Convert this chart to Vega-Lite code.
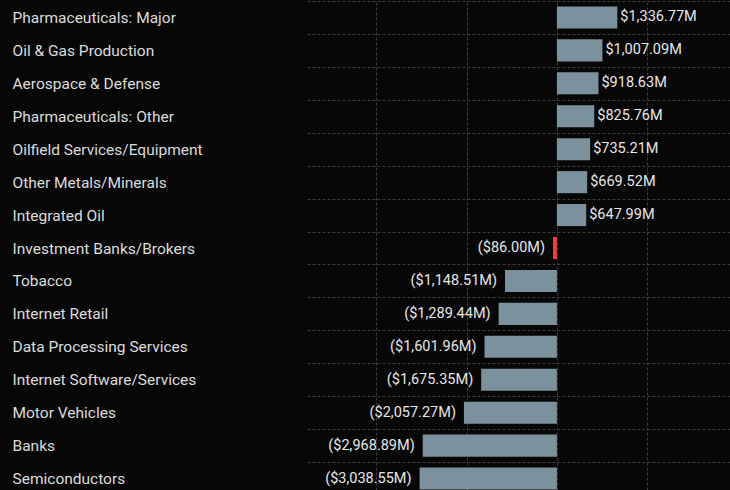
{
  "$schema": "https://vega.github.io/schema/vega-lite/v6.json",
  "autosize": "none",
  "padding": {"left": 307, "top": 1, "right": 0, "bottom": 0},
  "width": 423,
  "height": 494,
  "background": "#070707",
  "config": {
    "view": {"stroke": null},
    "font": "Roboto"
  },
  "data": {
    "values": [
      {"sector": "Pharmaceuticals: Major", "value": 1336.77},
      {"sector": "Oil & Gas Production", "value": 1007.09},
      {"sector": "Aerospace & Defense", "value": 918.63},
      {"sector": "Pharmaceuticals: Other", "value": 825.76},
      {"sector": "Oilfield Services/Equipment", "value": 735.21},
      {"sector": "Other Metals/Minerals", "value": 669.52},
      {"sector": "Integrated Oil", "value": 647.99},
      {"sector": "Investment Banks/Brokers", "value": -86.00},
      {"sector": "Tobacco", "value": -1148.51},
      {"sector": "Internet Retail", "value": -1289.44},
      {"sector": "Data Processing Services", "value": -1601.96},
      {"sector": "Internet Software/Services", "value": -1675.35},
      {"sector": "Motor Vehicles", "value": -2057.27},
      {"sector": "Banks", "value": -2968.89},
      {"sector": "Semiconductors", "value": -3038.55}
    ]
  },
  "transform": [
    {"calculate": "datum.value < 0 ? '($' + format(-datum.value, ',.2f') + 'M)' : '$' + format(datum.value, ',.2f') + 'M'", "as": "label"}
  ],
  "encoding": {
    "y": {
      "field": "sector",
      "type": "nominal",
      "sort": null,
      "scale": {"paddingInner": 0, "paddingOuter": 0},
      "axis": {
        "title": null,
        "domain": false,
        "ticks": false,
        "tickBand": "extent",
        "grid": true,
        "gridColor": "#3c3c3c",
        "gridDash": [3, 2],
        "gridWidth": 1,
        "labelAlign": "left",
        "labelPadding": 295,
        "labelFontSize": 15.5,
        "labelColor": "#dcdcdc",
        "labelLimit": 300
      }
    },
    "x": {
      "field": "value",
      "type": "quantitative",
      "scale": {"domain": [-5530, 3830], "nice": false, "zero": false},
      "axis": {
        "title": null,
        "domain": false,
        "ticks": false,
        "labels": false,
        "values": [-4000, -2000, 0, 2000],
        "grid": true,
        "gridColor": "#3c3c3c",
        "gridDash": [3, 2],
        "gridWidth": 1
      }
    }
  },
  "layer": [
    {
      "mark": {"type": "bar", "height": {"band": 0.67}},
      "encoding": {
        "color": {
          "condition": {"test": "datum.sector === 'Investment Banks/Brokers'", "value": "#ee4136"},
          "value": "#7b929e"
        }
      }
    },
    {
      "transform": [{"filter": "datum.value >= 0"}],
      "mark": {"type": "text", "align": "left", "baseline": "middle", "dx": 3, "fontSize": 14.5, "color": "#e6e6e6"},
      "encoding": {"text": {"field": "label"}}
    },
    {
      "transform": [{"filter": "datum.value < 0"}],
      "mark": {"type": "text", "align": "right", "baseline": "middle", "dx": -8, "fontSize": 14.5, "color": "#e6e6e6"},
      "encoding": {"text": {"field": "label"}}
    }
  ]
}
